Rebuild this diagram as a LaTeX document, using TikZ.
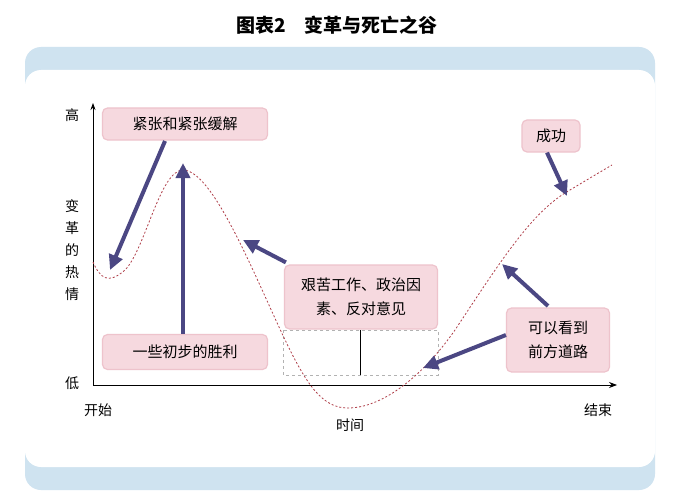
\documentclass[tikz,border=0pt]{standalone}
\usepackage{fontspec}
\setmainfont{Noto Sans CJK SC}
\usetikzlibrary{arrows.meta}
\definecolor{bluep}{HTML}{CFE3F0}
\definecolor{pinkf}{HTML}{F6D9DF}
\definecolor{pinkd}{HTML}{EEC3CC}
\definecolor{purp}{HTML}{4B4783}
\definecolor{curve}{HTML}{B0404A}
\tikzset{
 box/.style={draw=pinkd,line width=1.2pt,fill=pinkf,rounded corners=5pt,font=\fontsize{15}{18}\selectfont,align=center,inner sep=0pt},
 big/.style={draw=purp,line width=4pt,-{Triangle[length=15pt,width=14pt]},shorten >=0pt},
 lab/.style={font=\fontsize{14}{16}\selectfont,inner sep=0pt}
}
\begin{document}
\begin{tikzpicture}[x=1pt,y=-1pt]
\useasboundingbox (0,0) rectangle (674,500);
\fill[white] (0,0) rectangle (674,500);
\node[font=\fontsize{19}{22}\selectfont\bfseries] (title) at (337,25) {图表2\quad 变革与死亡之谷};
\fill[bluep,rounded corners=16pt] (25,47) rectangle (655,490);
\fill[white,rounded corners=16pt] (25,70) rectangle (655,467);
% axes
\coordinate (o) at (93,385);
\coordinate (yt) at (93,103);
\coordinate (xr) at (617,385);
\draw[line width=0.8pt,-{Stealth[length=7pt,width=5pt]}] (o) -- (yt);
\draw[line width=0.8pt,-{Stealth[length=8pt,width=6pt]}] (o) -- (xr);
\node[lab] (hi) at (72,115) {高};
\node[lab] (lo) at (72,383) {低};
\node[lab,align=center,font=\fontsize{14}{22}\selectfont] (ylab) at (72,250) {变\\革\\的\\热\\情};
\node[lab] (start) at (98,410) {开始};
\node[lab] (end) at (598,410) {结束};
\node[lab] (time) at (350,425) {时间};
% dashed rect
\draw[gray!60,dashed,line width=0.5pt] (283,330) rectangle (438,375);
\coordinate (v1) at (360,330);
\coordinate (v2) at (360,375);
\draw[line width=0.7pt] (v1) -- (v2);
% curve
\draw[curve,line width=0.8pt,dash pattern=on 2pt off 2pt]
 (93,262) .. controls (100,278) and (108,285) .. (125,270)
 .. controls (145,250) and (160,170) .. (183,170)
 .. controls (215,170) and (260,290) .. (290,350)
 .. controls (310,390) and (325,408) .. (348,408)
 .. controls (380,408) and (420,380) .. (455,330)
 .. controls (500,262) and (530,215) .. (565,193)
 .. controls (585,181) and (600,172) .. (612,165);
% boxes
\node[box,minimum width=165pt,minimum height=32pt] (b1) at (185,124) {紧张和紧张缓解};
\node[box,minimum width=58pt,minimum height=32pt] (b2) at (551,136) {成功};
\node[box,minimum width=153pt,minimum height=64pt,font=\fontsize{15}{24}\selectfont] (b3) at (361,297) {艰苦工作、政治因\\素、反对意见};
\node[box,minimum width=165pt,minimum height=35pt] (b4) at (185,352) {一些初步的胜利};
\node[box,minimum width=103pt,minimum height=64pt,font=\fontsize{15}{24}\selectfont] (b5) at (558,340) {可以看到\\前方道路};
% arrow targets
\coordinate (t1) at (110,270);
\coordinate (t2) at (183,163);
\coordinate (t3) at (243,240);
\coordinate (t4) at (567,196);
\coordinate (t5) at (502,264);
\coordinate (t6) at (423,368);
\draw[big] (165,141) -- (t1);
\draw[big] (b4.north -| t2) -- (t2);
\draw[big] (b3.north west) ++(2,-2) -- (t3);
\draw[big] (b2.south) ++(-4,0) -- (t4);
\draw[big] (548,306) -- (t5);
\draw[big] (b5.west) ++(0,-5) -- (t6);
\end{tikzpicture}
\end{document}
